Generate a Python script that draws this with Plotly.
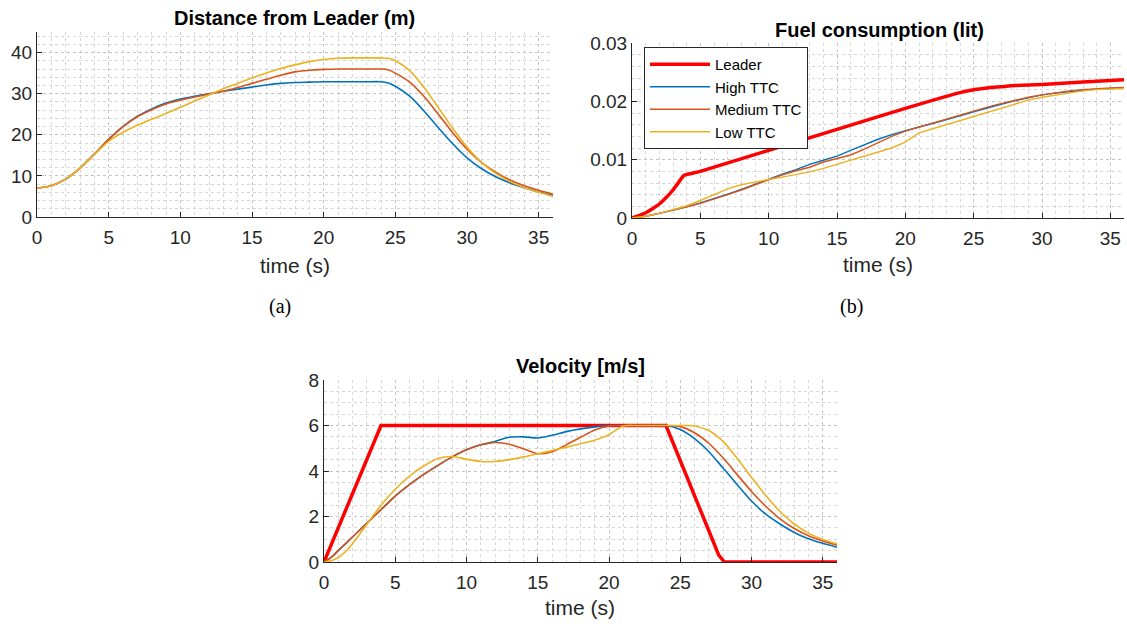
import plotly.graph_objects as go

# ---------------- data ----------------
series_names = ["Leader", "High TTC", "Medium TTC", "Low TTC"]
x_ticks = [0, 5, 10, 15, 20, 25, 30, 35]

# (a) Distance from Leader (m)
t_dist = [0, 1, 2, 3, 4, 5, 6, 7, 8, 9, 10, 11, 12, 13, 14, 15, 16, 17, 18, 19,
          20, 21, 22, 23, 24, 24.5, 25, 26, 27, 28, 29, 30, 31, 32, 33, 34, 35, 36]
dist_high = [7.0, 7.6, 9.2, 11.9, 15.3, 18.9, 22.0, 24.5, 26.3, 27.7,
             28.7, 29.4, 30.0, 30.6, 31.1, 31.6, 32.1, 32.5, 32.7, 32.8,
             32.9, 32.9, 32.9, 32.9, 32.9, 32.6, 31.8,
             29.4, 25.8, 21.7, 17.8, 14.4, 11.8, 9.8, 8.3, 7.1, 6.1, 5.3]
dist_med = [7.0, 7.6, 9.2, 11.9, 15.3, 18.9, 22.0, 24.4, 26.1, 27.5,
            28.4, 29.2, 29.9, 30.6, 31.5, 32.5, 33.5, 34.5, 35.3, 35.7,
            35.9, 36.0, 36.0, 36.0, 36.0, 35.8, 35.0,
            32.8, 29.3, 25.0, 20.5, 16.5, 13.3, 10.9, 9.0, 7.6, 6.5, 5.6]
dist_low = [7.0, 7.6, 9.2, 11.9, 15.2, 18.4, 20.6, 22.3, 23.8, 25.2,
            26.7, 28.2, 29.7, 31.2, 32.5, 33.8, 35.0, 36.1, 37.0, 37.8,
            38.3, 38.6, 38.7, 38.7, 38.7, 38.6, 38.0,
            35.6, 31.5, 26.6, 21.6, 17.0, 13.3, 10.6, 8.6, 7.1, 6.0, 5.0]

# (b) Fuel consumption (lit)
t_fuel_leader = [0, 0.5, 1, 1.5, 2, 2.5, 3, 3.5, 3.8, 5, 10, 15, 20, 24, 25, 26, 27, 28, 30, 33, 36]
fuel_leader = [0, 0.0004, 0.0009, 0.0016, 0.0024, 0.0035, 0.0048, 0.0064, 0.0073, 0.0080,
               0.0116, 0.0152, 0.0188, 0.0215, 0.0220, 0.0223, 0.0225, 0.0227, 0.0229, 0.0233, 0.0237]
t_fuel = [0, 1, 2, 3, 4, 5, 6, 7, 8, 9, 10, 11, 12, 13, 14, 15, 16, 17, 18, 19,
          20, 21, 22, 23, 24, 25, 26, 27, 28, 29, 30, 31, 32, 33, 34, 35, 36]
fuel_high = [0, 0.0003, 0.0008, 0.0013, 0.0019, 0.0026, 0.0033, 0.0041, 0.0049, 0.0058,
             0.0067, 0.0075, 0.0083, 0.0092, 0.0099, 0.0106, 0.0116, 0.0126, 0.0135, 0.0143,
             0.0150, 0.0156, 0.0162, 0.0168, 0.0175, 0.0182, 0.0189, 0.0195, 0.0201, 0.0206,
             0.0211, 0.0214, 0.0217, 0.0219, 0.0221, 0.0222, 0.0223]
fuel_med = [0, 0.0003, 0.0008, 0.0013, 0.0019, 0.0025, 0.0032, 0.0040, 0.0048, 0.0057,
            0.0066, 0.0074, 0.0081, 0.0087, 0.0096, 0.0102, 0.0108, 0.0118, 0.0129, 0.0140,
            0.0149, 0.0156, 0.0162, 0.0169, 0.0176, 0.0183, 0.0190, 0.0196, 0.0202, 0.0207,
            0.0211, 0.0215, 0.0218, 0.0220, 0.0222, 0.0223, 0.0224]
fuel_low = [0, 0.0003, 0.0008, 0.0014, 0.0021, 0.0030, 0.0040, 0.0050, 0.0057, 0.0062,
            0.0066, 0.0070, 0.0074, 0.0079, 0.0085, 0.0092, 0.0099, 0.0106, 0.0113, 0.0120,
            0.0130, 0.0146, 0.0153, 0.0160, 0.0167, 0.0174, 0.0182, 0.0189, 0.0196, 0.0202,
            0.0207, 0.0211, 0.0215, 0.0218, 0.0220, 0.0221, 0.0222]

# (c) Velocity [m/s]
t_vel_leader = [0, 4, 24, 27.7, 28.1, 36]
vel_leader = [0, 6, 6, 0.3, 0, 0]
t_vel = [0, 0.5, 1, 1.5, 2, 3, 4, 5, 6, 7, 8, 9, 10, 11, 12, 13, 14, 15, 16, 17, 18, 19,
         20, 21, 22, 23, 24, 25, 26, 27, 28, 29, 30, 31, 32, 33, 34, 35, 36]
vel_high = [0, 0.2, 0.5, 0.8, 1.1, 1.7, 2.3, 2.9, 3.4, 3.85, 4.25, 4.62, 4.93, 5.15, 5.3,
            5.48, 5.5, 5.45, 5.57, 5.73, 5.85, 5.94, 6.0, 6.0, 6.0, 6.0, 6.0, 5.82, 5.42,
            4.86, 4.13, 3.4, 2.68, 2.1, 1.67, 1.3, 1.02, 0.82, 0.65]
vel_med = [0, 0.2, 0.5, 0.8, 1.1, 1.7, 2.3, 2.9, 3.4, 3.85, 4.25, 4.62, 4.93, 5.15, 5.25,
           5.18, 4.98, 4.76, 4.85, 5.15, 5.48, 5.8, 5.98, 6.0, 6.0, 6.0, 6.0, 5.95, 5.68,
           5.22, 4.58, 3.84, 3.1, 2.45, 1.9, 1.47, 1.15, 0.92, 0.74]
vel_low = [0, 0.05, 0.2, 0.45, 0.8, 1.65, 2.5, 3.2, 3.78, 4.22, 4.55, 4.64, 4.52, 4.42, 4.42,
           4.5, 4.62, 4.76, 4.9, 5.05, 5.2, 5.35, 5.6, 5.98, 6.0, 6.0, 6.0, 6.0, 5.98,
           5.78, 5.3, 4.55, 3.72, 2.92, 2.22, 1.67, 1.27, 0.99, 0.8]

# ---------------- style ----------------
W, H = 1127, 624
C_LEAD = "#FF0000"
C_HIGH = "#0072BD"
C_MED = "#D95319"
C_LOW = "#EDB120"
FONT = "Liberation Sans"
AX = "#262626"


def px(x, y):
    return x / W, 1 - y / H


def xd(x0, x1):
    return [x0 / W, x1 / W]


def yd(ytop, ybot):
    return [1 - ybot / H, 1 - ytop / H]


def axis(domain, rng, dtick, minor, anchor, tickvals=None):
    d = dict(domain=domain, range=rng, anchor=anchor, dtick=dtick, tick0=0,
             ticks="inside", ticklen=5, tickwidth=1, tickcolor=AX,
             showline=True, linecolor=AX, linewidth=1, mirror=False,
             showgrid=True, gridcolor="#c4c4c4", griddash="dot", gridwidth=1,
             zeroline=False, fixedrange=True, automargin=False,
             tickfont=dict(family=FONT, size=19, color=AX),
             minor=dict(dtick=minor, tick0=0, showgrid=True, gridcolor="#d6d6d6",
                        griddash="dot", gridwidth=1, ticks=""))
    if tickvals is not None:
        d["tickmode"] = "array"
        d["tickvals"] = tickvals
        d.pop("dtick")
        d["ticklabelstandoff"] = 3
    return d


fig = go.Figure()

# (a) distance
for y, c, n in [(dist_high, C_HIGH, series_names[1]), (dist_med, C_MED, series_names[2]),
                (dist_low, C_LOW, series_names[3])]:
    fig.add_trace(go.Scatter(x=t_dist, y=y, mode="lines", name=n, showlegend=False,
                             line=dict(color=c, width=1.6, shape="spline", smoothing=0.8),
                             xaxis="x", yaxis="y"))

# (b) fuel
fig.add_trace(go.Scatter(x=t_fuel_leader, y=fuel_leader, mode="lines", name=series_names[0],
                         line=dict(color=C_LEAD, width=3.5, shape="spline", smoothing=0.5),
                         xaxis="x2", yaxis="y2"))
for y, c, n in [(fuel_high, C_HIGH, series_names[1]), (fuel_med, C_MED, series_names[2]),
                (fuel_low, C_LOW, series_names[3])]:
    fig.add_trace(go.Scatter(x=t_fuel, y=y, mode="lines", name=n,
                             line=dict(color=c, width=1.4),
                             xaxis="x2", yaxis="y2"))

# (c) velocity
fig.add_trace(go.Scatter(x=t_vel_leader, y=vel_leader, mode="lines", name=series_names[0],
                         showlegend=False, line=dict(color=C_LEAD, width=3.5),
                         xaxis="x3", yaxis="y3"))
for y, c, n in [(vel_high, C_HIGH, series_names[1]), (vel_med, C_MED, series_names[2]),
                (vel_low, C_LOW, series_names[3])]:
    fig.add_trace(go.Scatter(x=t_vel, y=y, mode="lines", name=n, showlegend=False,
                             line=dict(color=c, width=1.6, shape="spline", smoothing=0.8),
                             xaxis="x3", yaxis="y3"))

fig.update_layout(
    width=W, height=H, autosize=False,
    margin=dict(l=0, r=0, t=0, b=0, autoexpand=False),
    paper_bgcolor="white", plot_bgcolor="white",
    font=dict(family=FONT, color=AX),
    xaxis=axis(xd(37, 553), [0, 36], 5, 1, "y", x_ticks),
    yaxis=axis(yd(32, 217), [0, 45], 10, 2, "x"),
    xaxis2=axis(xd(632, 1124), [0, 36], 5, 1, "y2", x_ticks),
    yaxis2=axis(yd(43, 218), [0, 0.03], 0.01, 0.002, "x2"),
    xaxis3=axis(xd(324, 837), [0, 36], 5, 1, "y3", x_ticks),
    yaxis3=axis(yd(380, 562), [0, 8], 2, 0.5, "x3"),
    showlegend=True,
    legend=dict(x=644 / W, y=1 - 47 / H, xanchor="left", yanchor="top",
                bgcolor="white", bordercolor=AX, borderwidth=1,
                font=dict(family=FONT, size=15, color="black"),
                itemwidth=60, tracegroupgap=0),
)

ann = []


def text(x, y, s, size, bold=False, family=FONT, color="black"):
    ax_, ay_ = px(x, y)
    ann.append(dict(x=ax_, y=ay_, xref="paper", yref="paper", showarrow=False,
                    text=("<b>%s</b>" % s) if bold else s, xanchor="center", yanchor="middle",
                    font=dict(family=family, size=size, color=color)))


text(294, 18, "Distance from Leader (m)", 20, bold=True)
text(879, 30, "Fuel consumption (lit)", 20, bold=True)
text(580, 366, "Velocity [m/s]", 20, bold=True)
text(295, 265, "time (s)", 21, color=AX)
text(878, 264, "time (s)", 21, color=AX)
text(580, 607, "time (s)", 21, color=AX)
text(280, 306, "(a)", 20, family="Liberation Serif")
text(851, 306, "(b)", 20, family="Liberation Serif")
fig.update_layout(annotations=ann)

fig.write_html("out.html", config={"displayModeBar": False},
               post_script="document.body.style.margin='0px';document.body.style.padding='0px';document.body.style.overflow='hidden';")
